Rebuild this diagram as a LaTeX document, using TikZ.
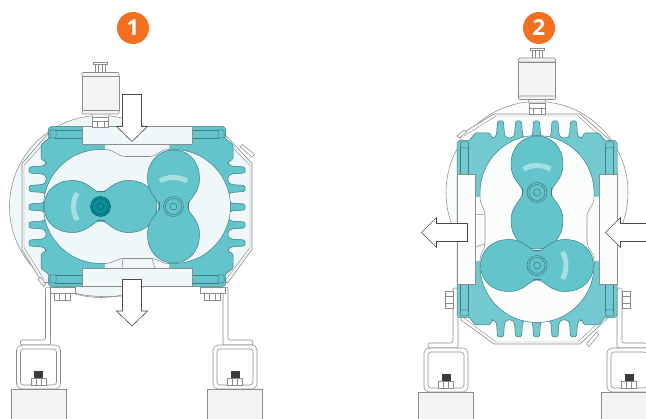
\documentclass[tikz,border=0pt]{standalone}
\usepackage{fontspec}
\setmainfont{Open Sans}
\definecolor{badge}{HTML}{F37021}
\definecolor{teal}{HTML}{63C5CB}
\definecolor{tealpale}{HTML}{72C9CF}
\definecolor{tealline}{HTML}{3C7C82}
\definecolor{teallight}{HTML}{A5DFE2}
\definecolor{tealdark}{HTML}{0B8E9A}
\definecolor{tealdeep}{HTML}{075F68}
\definecolor{iceblue}{HTML}{EFF7F9}
\definecolor{icewhite}{HTML}{FBFDFD}
\definecolor{steel}{HTML}{8C8C8C}
\definecolor{ink}{HTML}{4A4A4A}
\definecolor{cream}{HTML}{F5F4F5}

\newcommand{\halfbody}{
 \path[casebody] (0,-80) -- (-87,-80) -- (-89,-77) -- (-88,-68) -- (-96,-62) -- (-96,-47) -- (-91,-45)
  \foreach \finy in {-36.5,-18,0.5,18.5,36.5}{ -- (-91,\finy-6.5) -- (-94,\finy-4) -- (-108,\finy-3) -- (-108,\finy+3) -- (-94,\finy+4) -- (-91,\finy+6.5)}
  -- (-91,45) -- (-96,47) -- (-96,62) -- (-88,68) -- (-89,77) -- (-87,80) -- (0,80);
}
\newcommand{\lobes}{
 \draw[rotorline,fill=teal] (0,-14.5) .. controls (8,-14.5) and (12,-26) .. (28,-26) .. controls (46,-26) and (56.5,-14) .. (56.5,0)
  .. controls (56.5,14) and (46,26) .. (28,26) .. controls (12,26) and (8,14.5) .. (0,14.5)
  .. controls (-8,14.5) and (-12,26) .. (-28,26) .. controls (-46,26) and (-56.5,14) .. (-56.5,0)
  .. controls (-56.5,-14) and (-46,-26) .. (-28,-26) .. controls (-12,-26) and (-8,-14.5) .. (0,-14.5) -- cycle;
 \draw[line width=1pt,tealline] (-4,-14.5) -- (4,-14.5) (-4,14.5) -- (4,14.5);
}
\newcommand{\pump}[5]{
 \begin{scope}[shift={(#1,#2)},rotate=#3]
  \colorlet{casefill}{#4}
  \colorlet{bodyfill}{#5}
  \draw[steel,fill=casefill] (-36.5,0) circle[radius=91];
  \draw[steelthick,fill=casefill] (-87,-75) -- (-115,-43) -- (-115,43) -- (-95,76) -- (91,76) -- (115,43) -- (115,-43) -- (85,-75) -- cycle;
  \draw[steel,line width=.4pt] (-85,-72) -- (-113,-41) -- (-113,41) -- (-93,73) (89,73) -- (113,41) -- (113,-41) -- (83,-72);
  \draw[steel,fill=white] (103,-59.5) -- (115,-49.5) -- (117.5,-52) -- (105.5,-62) -- cycle;
  \draw[steel,fill=white] (-97,70.5) -- (-91,77.5) -- (-93,80) -- (-99,73) -- cycle;
  \halfbody
  \begin{scope}[xscale=-1]
   \halfbody
  \end{scope}
  \foreach \sx in {1,-1}{
   \foreach \sy in {1,-1}{
    \draw[rotorline] (\sx*55,\sy*76.5) -- (\sx*82,\sy*76.5) (\sx*55,\sy*68.5) -- (\sx*82,\sy*68.5);
    \draw[rotorline,rounded corners=1pt] (\sx*81,\sy*76.5) rectangle (\sx*87,\sy*68.5);
   }
  }
  \draw[rotorline,fill=casefill] (-36.5,-57) arc[start angle=270,end angle=90,radius=57] -- (36.5,57) arc[start angle=90,end angle=-90,radius=57] -- cycle;
  \fill[casefill] (-32,-63) rectangle (32,-56) (-32,56) rectangle (32,63);
  \draw[steel] (-32,-57) .. controls (-22,-57) and (-20,-50) .. (-12,-50) -- (13,-50) .. controls (20,-50) and (22,-57) .. (32,-57);
  \draw[steel] (-32,57) .. controls (-24,57) and (-20,52) .. (-14,52) -- (15,52) .. controls (20,52) and (24,57) .. (32,57);
  \draw[steel] (-14,52) -- (-15,62) (15,52) -- (18,62);
  \draw[steel,fill=casefill] (-55,-80) rectangle (55,-62);
  \draw[steel,fill=casefill] (-55,62) rectangle (55,80);
  \begin{scope}[shift={(-36.5,0)}]
   \lobes
  \end{scope}
  \begin{scope}[shift={(36.5,0)},rotate=90]
   \lobes
  \end{scope}
  \draw[line width=5pt,teallight] (-36.5,0) ++(150:27) arc[start angle=150,end angle=210,radius=27];
  \draw[line width=5pt,teallight] (36.5,0) ++(-118:29) arc[start angle=-118,end angle=-62,radius=29];
 \end{scope}
}
\newcommand{\hub}[4]{
 \draw[#4,fill=#3] (#1,#2) circle[radius=10];
 \draw[#4] (#1,#2) circle[radius=8];
 \draw[#4] (#1,#2) circle[radius=3.5];
}
\newcommand{\motor}[2]{
 \begin{scope}[shift={(#1,#2)}]
  \draw[steel,fill=white] (-5,-8) rectangle (5,0);
  \draw[steel,fill=white] (-7,-10) rectangle (7,-8);
  \draw[steel] (-2,-8) -- (-2,0) (2,-8) -- (2,0);
  \draw[steel,fill=cream] (-9,41) -- (9,41) -- (8,45) -- (-8,45) -- cycle;
  \draw[steel,fill=cream] (-18.5,4) rectangle (18.5,38);
  \draw[steel,fill=cream,rounded corners=1pt] (-18.5,0) rectangle (18.5,4);
  \draw[steel,fill=cream,rounded corners=1pt] (-18.5,38) rectangle (18.5,41.5);
 \end{scope}
}
\newcommand{\support}[4]{
 \begin{scope}[shift={(#1,#3)},xscale=#2]
  \draw[steel,fill=cream] (-27.5,44) rectangle (27.5,80);
  \draw[steel,fill=white,rounded corners=2pt] (7,#4-#3) -- (7,-5) -- (-18,-5) -- (-18,0) -- (12,0) -- (12,#4-#3) -- cycle;
  \draw[steel,fill=white,rounded corners=5pt] (-22,0) rectangle (22,44);
  \draw[steel,rounded corners=3pt] (-18,4) rectangle (18,40);
  \fill[ink!80!black] (-4.5,26) rectangle (4.5,33);
  \draw[steel,fill=white] (-7.5,33) rectangle (7.5,40);
  \draw[steel] (-2.5,33) -- (-2.5,40) (2.5,33) -- (2.5,40);
 \end{scope}
}

\begin{document}
\begin{tikzpicture}[x=1pt,y=-1pt,line width=.55pt,
steelthick/.style={draw=steel,line width=.6pt},
casebody/.style={fill=bodyfill,draw=tealline,line width=.5pt,rounded corners=1.5pt},
rotorline/.style={draw=tealline,line width=.5pt},
flow/.style={draw=ink,fill=white,line width=.6pt},
number/.style={circle,fill=badge,text=white,minimum size=32pt,inner sep=0pt,font=\fontsize{22}{22}\selectfont\bfseries}]
 \clip (0,0) rectangle (646,419);
 \node[number] (one) at (133,28) {1};
 \node[number] (two) at (539,28) {2};

 \pump{137}{206.5}{0}{iceblue}{teal}
 \hub{100.5}{206.5}{tealdark}{tealdeep}
 \hub{173.5}{206.5}{teal}{tealline}
 \motor{100.5}{72.5}
 \draw[steel,fill=white] (92.5,117.5) rectangle (108.5,127);
 \draw[steel] (97,121) -- (97,127) (104,121) -- (104,127) (92.5,121) -- (108.5,121);
 \draw[steel] (74,293) .. controls (90,297) and (105,297) .. (122,296);
 \support{38.5}{1}{345}{287}
 \support{235}{-1}{345}{287}
 \foreach \nutx in {62.5,212.5}{
  \draw[steel,fill=white] (\nutx-12.5,287) rectangle (\nutx+12.5,293);
  \draw[steel,fill=white] (\nutx-8,293) rectangle (\nutx+8,300);
  \draw[steel] (\nutx-3,293) -- (\nutx-3,300) (\nutx+3,293) -- (\nutx+3,300);
 }
 \draw[flow] (122.5,94.5) -- (141.5,94.5) -- (141.5,126.5) -- (147.5,126.5) -- (132,141.5) -- (116.5,126.5) -- (122.5,126.5) -- cycle;
 \draw[flow] (122.5,279.5) -- (141.5,279.5) -- (141.5,311) -- (147.5,311) -- (132,326) -- (116.5,311) -- (122.5,311) -- cycle;

 \support{446}{1}{348}{288}
 \support{629}{-1}{348}{288}
 \pump{537}{229}{-90}{icewhite}{tealpale}
 \hub{537}{192.5}{teal}{tealline}
 \hub{537}{265.5}{teal}{tealline}
 \motor{537}{58}
 \draw[steel,fill=white] (529,103) rectangle (545,114.5);
 \draw[steel] (533,108) -- (533,114.5) (541,108) -- (541,114.5) (529,108) -- (545,108);
 \foreach \bolta/\boltb in {445/453,622/630}{
  \draw[steel,fill=white] (\bolta,291) rectangle (\boltb,308);
  \draw[steel] (\bolta,296) -- (\boltb,296) (\bolta,303) -- (\boltb,303);
 }
 \draw[flow] (467.5,223.5) -- (436.5,223.5) -- (436.5,217.5) -- (421.5,232.5) -- (436.5,247.5) -- (436.5,241.5) -- (467.5,241.5) -- cycle;
 \draw[flow] (650,223.5) -- (620.5,223.5) -- (620.5,217.5) -- (605.5,232.5) -- (620.5,247.5) -- (620.5,241.5) -- (650,241.5) -- cycle;
\end{tikzpicture}
\end{document}
